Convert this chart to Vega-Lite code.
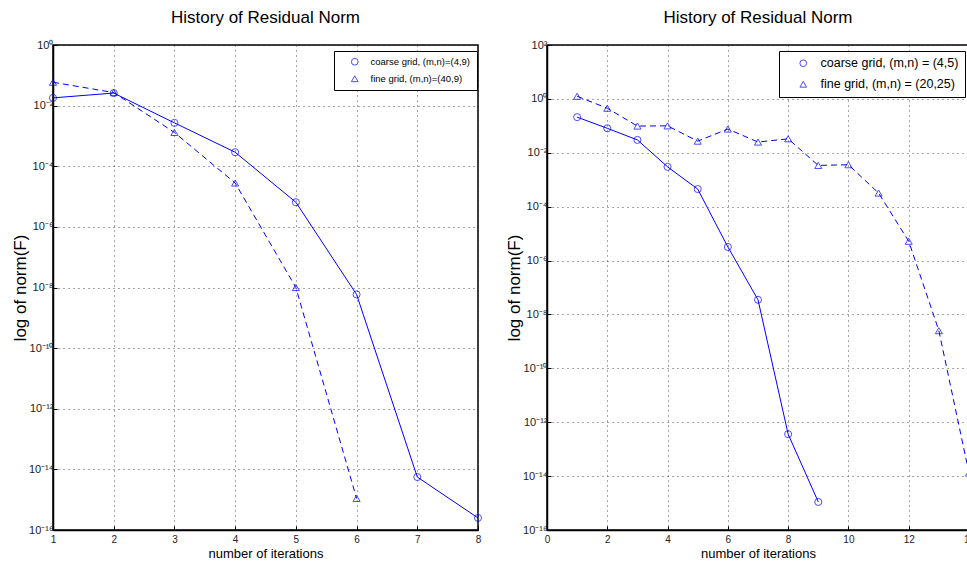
{
  "$schema": "https://vega.github.io/schema/vega-lite/v6.json",
  "padding": {"left": 10, "top": 8, "right": 0, "bottom": 0},
  "bounds": "flush",
  "spacing": 69,
  "background": "white",
  "config": {
    "font": "Liberation Sans",
    "view": {"stroke": "#000", "strokeWidth": 1.5},
    "axis": {
      "grid": true, "gridDash": [1, 4], "gridColor": "#222", "gridOpacity": 0.8,
      "domainColor": "#000", "domainWidth": 1.5, "tickColor": "#000", "tickSize": -4,
      "labelColor": "#222", "labelFont": "Liberation Sans", "labelFontSize": 10,
      "titleFontWeight": "normal", "titleColor": "#000", "labelFlush": false
    },
    "axisX": {"labelPadding": 8, "titleFontSize": 13, "titlePadding": 3},
    "axisY": {"labelPadding": 4, "labelFontSize": 11, "minExtent": 22, "maxExtent": 22, "titleFontSize": 17, "titlePadding": 2},
    "legend": {
      "orient": "none", "title": null, "strokeColor": "#000", "fillColor": "#fff",
      "padding": 6, "symbolStrokeColor": "#0000ff", "symbolFillColor": "transparent",
      "symbolStrokeWidth": 1, "labelFont": "Liberation Sans", "labelColor": "#000"
    },
    "title": {"fontSize": 17, "fontWeight": "normal", "font": "Liberation Sans", "color": "#000", "offset": 12}
  },
  "data": {"values": [
    {"panel": "A", "series": "coarse grid, (m,n)=(4,9)", "iter": 1, "norm": 0.018},
    {"panel": "A", "series": "coarse grid, (m,n)=(4,9)", "iter": 2, "norm": 0.026},
    {"panel": "A", "series": "coarse grid, (m,n)=(4,9)", "iter": 3, "norm": 0.0027},
    {"panel": "A", "series": "coarse grid, (m,n)=(4,9)", "iter": 4, "norm": 0.00029},
    {"panel": "A", "series": "coarse grid, (m,n)=(4,9)", "iter": 5, "norm": 6.5e-6},
    {"panel": "A", "series": "coarse grid, (m,n)=(4,9)", "iter": 6, "norm": 5.9e-9},
    {"panel": "A", "series": "coarse grid, (m,n)=(4,9)", "iter": 7, "norm": 5.6e-15},
    {"panel": "A", "series": "coarse grid, (m,n)=(4,9)", "iter": 8, "norm": 2.5e-16},
    {"panel": "A", "series": "fine grid, (m,n)=(40,9)", "iter": 1, "norm": 0.059},
    {"panel": "A", "series": "fine grid, (m,n)=(40,9)", "iter": 2, "norm": 0.027},
    {"panel": "A", "series": "fine grid, (m,n)=(40,9)", "iter": 3, "norm": 0.0013},
    {"panel": "A", "series": "fine grid, (m,n)=(40,9)", "iter": 4, "norm": 2.8e-5},
    {"panel": "A", "series": "fine grid, (m,n)=(40,9)", "iter": 5, "norm": 1.0e-8},
    {"panel": "A", "series": "fine grid, (m,n)=(40,9)", "iter": 6, "norm": 1.1e-15},
    {"panel": "B", "series": "coarse grid, (m,n) = (4,5)", "iter": 1, "norm": 0.21},
    {"panel": "B", "series": "coarse grid, (m,n) = (4,5)", "iter": 2, "norm": 0.081},
    {"panel": "B", "series": "coarse grid, (m,n) = (4,5)", "iter": 3, "norm": 0.030},
    {"panel": "B", "series": "coarse grid, (m,n) = (4,5)", "iter": 4, "norm": 0.0030},
    {"panel": "B", "series": "coarse grid, (m,n) = (4,5)", "iter": 5, "norm": 0.00045},
    {"panel": "B", "series": "coarse grid, (m,n) = (4,5)", "iter": 6, "norm": 3.2e-6},
    {"panel": "B", "series": "coarse grid, (m,n) = (4,5)", "iter": 7, "norm": 3.5e-8},
    {"panel": "B", "series": "coarse grid, (m,n) = (4,5)", "iter": 8, "norm": 3.6e-13},
    {"panel": "B", "series": "coarse grid, (m,n) = (4,5)", "iter": 9, "norm": 1.1e-15},
    {"panel": "B", "series": "fine grid, (m,n) = (20,25)", "iter": 1, "norm": 1.25},
    {"panel": "B", "series": "fine grid, (m,n) = (20,25)", "iter": 2, "norm": 0.45},
    {"panel": "B", "series": "fine grid, (m,n) = (20,25)", "iter": 3, "norm": 0.098},
    {"panel": "B", "series": "fine grid, (m,n) = (20,25)", "iter": 4, "norm": 0.10},
    {"panel": "B", "series": "fine grid, (m,n) = (20,25)", "iter": 5, "norm": 0.027},
    {"panel": "B", "series": "fine grid, (m,n) = (20,25)", "iter": 6, "norm": 0.076},
    {"panel": "B", "series": "fine grid, (m,n) = (20,25)", "iter": 7, "norm": 0.025},
    {"panel": "B", "series": "fine grid, (m,n) = (20,25)", "iter": 8, "norm": 0.033},
    {"panel": "B", "series": "fine grid, (m,n) = (20,25)", "iter": 9, "norm": 0.0034},
    {"panel": "B", "series": "fine grid, (m,n) = (20,25)", "iter": 10, "norm": 0.0036},
    {"panel": "B", "series": "fine grid, (m,n) = (20,25)", "iter": 11, "norm": 0.00032},
    {"panel": "B", "series": "fine grid, (m,n) = (20,25)", "iter": 12, "norm": 5.2e-6},
    {"panel": "B", "series": "fine grid, (m,n) = (20,25)", "iter": 13, "norm": 2.5e-9},
    {"panel": "B", "series": "fine grid, (m,n) = (20,25)", "iter": 14, "norm": 1.3e-14}
  ]},
  "hconcat": [
    {
      "width": 425, "height": 485,
      "title": {"text": "History of Residual Norm"},
      "transform": [{"filter": "datum.panel == 'A'"}],
      "encoding": {
        "x": {"field": "iter", "type": "quantitative",
              "scale": {"domain": [1, 8], "nice": false, "zero": false},
              "axis": {"values": [1, 2, 3, 4, 5, 6, 7, 8], "format": "d", "title": "number of iterations"}},
        "y": {"field": "norm", "type": "quantitative",
              "scale": {"type": "log", "domain": [1e-16, 1], "nice": false},
              "axis": {"values": [1e-16, 1e-14, 1e-12, 1e-10, 1e-8, 1e-6, 1e-4, 1e-2, 1],
                       "labelExpr": "['10⁻¹⁶','10⁻¹⁴','10⁻¹²','10⁻¹⁰','10⁻⁸','10⁻⁶','10⁻⁴','10⁻²','10⁰','10²'][round(log(datum.value)/LN10/2)+8]",
                       "title": "log of norm(F)"}}
      },
      "layer": [
        {"transform": [{"filter": "indexof(datum.series, 'coarse') == 0"}],
         "mark": {"type": "line", "color": "#0000ff", "strokeWidth": 1}},
        {"transform": [{"filter": "indexof(datum.series, 'fine') == 0"}],
         "mark": {"type": "line", "color": "#0000ff", "strokeWidth": 1, "strokeDash": [6, 4]}},
        {"mark": {"type": "point", "color": "#0000ff", "filled": false, "size": 50, "strokeWidth": 1},
         "encoding": {"shape": {"field": "series", "type": "nominal",
            "scale": {"domain": ["coarse grid, (m,n)=(4,9)", "fine grid, (m,n)=(40,9)"], "range": ["circle", "triangle-up"]},
            "legend": {"legendX": 281, "legendY": 6, "labelFontSize": 9.5, "symbolSize": 45, "padding": 6, "rowPadding": 5, "symbolOffset": 10, "labelOffset": 11}}}}
      ]
    },
    {
      "width": 422, "height": 485,
      "title": {"text": "History of Residual Norm"},
      "transform": [{"filter": "datum.panel == 'B'"}],
      "encoding": {
        "x": {"field": "iter", "type": "quantitative",
              "scale": {"domain": [0, 14], "nice": false, "zero": false},
              "axis": {"values": [0, 2, 4, 6, 8, 10, 12, 14], "format": "d", "title": "number of iterations"}},
        "y": {"field": "norm", "type": "quantitative",
              "scale": {"type": "log", "domain": [1e-16, 100], "nice": false},
              "axis": {"values": [1e-16, 1e-14, 1e-12, 1e-10, 1e-8, 1e-6, 1e-4, 1e-2, 1, 100],
                       "labelExpr": "['10⁻¹⁶','10⁻¹⁴','10⁻¹²','10⁻¹⁰','10⁻⁸','10⁻⁶','10⁻⁴','10⁻²','10⁰','10²'][round(log(datum.value)/LN10/2)+8]",
                       "title": "log of norm(F)"}}
      },
      "layer": [
        {"transform": [{"filter": "indexof(datum.series, 'coarse') == 0"}],
         "mark": {"type": "line", "color": "#0000ff", "strokeWidth": 1}},
        {"transform": [{"filter": "indexof(datum.series, 'fine') == 0"}],
         "mark": {"type": "line", "color": "#0000ff", "strokeWidth": 1, "strokeDash": [6, 4]}},
        {"mark": {"type": "point", "color": "#0000ff", "filled": false, "size": 50, "strokeWidth": 1},
         "encoding": {"shape": {"field": "series", "type": "nominal",
            "scale": {"domain": ["coarse grid, (m,n) = (4,5)", "fine grid, (m,n) = (20,25)"], "range": ["circle", "triangle-up"]},
            "legend": {"legendX": 232, "legendY": 6, "labelFontSize": 12.5, "symbolSize": 45, "padding": 6, "rowPadding": 8, "symbolOffset": 12, "labelOffset": 11}}}}
      ]
    }
  ],
  "resolve": {
    "scale": {"x": "independent", "y": "independent", "shape": "independent"},
    "legend": {"shape": "independent"}
  }
}
